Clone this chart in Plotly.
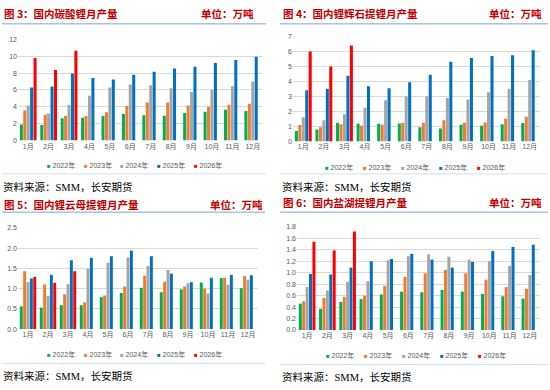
import plotly.graph_objects as go

# ---------------- data ----------------
months = ["1月", "2月", "3月", "4月", "5月", "6月", "7月", "8月", "9月", "10月", "11月", "12月"]
years = ["2022年", "2023年", "2024年", "2025年", "2026年"]
year_colors = ["#00B050", "#ED7D31", "#A5A5A5", "#0070C0", "#FF0000"]

# 图3 国内碳酸锂月产量
lc_2022 = [1.9, 1.85, 2.65, 2.7, 2.9, 3.15, 3.0, 2.95, 3.25, 3.4, 3.65, 3.5]
lc_2023 = [3.55, 3.05, 2.95, 2.9, 3.35, 4.1, 4.5, 4.5, 4.15, 4.0, 4.25, 4.35]
lc_2024 = [4.15, 3.2, 4.25, 5.3, 6.3, 6.65, 6.55, 6.2, 5.75, 6.0, 6.45, 7.0]
lc_2025 = [6.3, 6.4, 7.95, 7.4, 7.25, 7.8, 8.15, 8.55, 8.75, 9.2, 9.55, 9.95]
lc_2026 = [9.8, 8.35, 10.65, None, None, None, None, None, None, None, None, None]

# 图4 国内锂辉石提锂月产量
sp_2022 = [0.7, 0.8, 1.23, 1.18, 1.18, 1.2, 0.95, 0.87, 1.12, 1.05, 1.15, 1.23]
sp_2023 = [1.1, 0.95, 1.15, 1.05, 1.12, 1.25, 1.25, 1.42, 1.25, 1.27, 1.52, 1.65]
sp_2024 = [1.62, 1.42, 1.82, 2.25, 2.75, 3.0, 3.02, 2.9, 2.8, 3.28, 3.52, 4.1]
sp_2025 = [3.42, 3.52, 4.38, 3.68, 3.55, 3.95, 4.45, 5.32, 5.57, 5.7, 5.75, 6.07]
sp_2026 = [6.0, 5.0, 6.4, None, None, None, None, None, None, None, None, None]

# 图5 国内锂云母提锂月产量
lp_2022 = [0.56, 0.53, 0.59, 0.59, 0.79, 0.89, 1.02, 0.91, 0.98, 1.15, 1.26, 1.01]
lp_2023 = [1.43, 1.1, 0.86, 0.66, 0.83, 1.05, 1.32, 1.17, 1.05, 1.0, 1.27, 1.31]
lp_2024 = [1.16, 0.82, 1.11, 1.49, 1.64, 1.77, 1.56, 1.46, 1.13, 0.88, 1.1, 1.22]
lp_2025 = [1.25, 1.34, 1.7, 1.76, 1.8, 1.94, 1.8, 1.37, 1.16, 1.27, 1.34, 1.33]
lp_2026 = [1.29, 1.14, 1.43, None, None, None, None, None, None, None, None, None]

# 图6 国内盐湖提锂月产量
sl_2022 = [0.46, 0.37, 0.49, 0.54, 0.62, 0.67, 0.66, 0.70, 0.67, 0.63, 0.59, 0.55]
sl_2023 = [0.50, 0.56, 0.58, 0.60, 0.77, 0.93, 0.99, 1.05, 0.99, 0.88, 0.75, 0.72]
sl_2024 = [0.75, 0.69, 0.84, 0.85, 1.22, 1.29, 1.32, 1.28, 1.23, 1.20, 1.12, 0.96]
sl_2025 = [0.98, 0.97, 1.09, 1.20, 1.24, 1.33, 1.23, 1.09, 1.19, 1.38, 1.45, 1.49]
sl_2026 = [1.54, 1.39, 1.72, None, None, None, None, None, None, None, None, None]

titles = ["图 3：国内碳酸锂月产量", "图 4：国内锂辉石提锂月产量",
          "图 5：国内锂云母提锂月产量", "图 6：国内盐湖提锂月产量"]
unit_text = "单位：万吨"
source_text = "资料来源：SMM，长安期货"

# ---------------- layout helpers ----------------
W, H = 550, 390


def px(x):
    return x / W


def py(y):
    return 1 - y / H


panels = [
    dict(series=[lc_2022, lc_2023, lc_2024, lc_2025, lc_2026], ymax=12, dtick=2, fmt="d",
         xd=(18, 263), yd=(36, 139), title_x=2, title_y=10, unit_x=256, line_y=20, lx=(2, 266),
         leg_x=45, leg_y=164, leg_step=36.7, bot_y=173, src_y=186),
    dict(series=[sp_2022, sp_2023, sp_2024, sp_2025, sp_2026], ymax=7, dtick=1, fmt="d",
         xd=(293, 540), yd=(33, 140), title_x=281, title_y=10, unit_x=544, line_y=20, lx=(280, 548),
         leg_x=323, leg_y=166, leg_step=38, bot_y=173, src_y=186),
    dict(series=[lp_2022, lp_2023, lp_2024, lp_2025, lp_2026], ymax=2.5, dtick=0.5, fmt=".1f",
         xd=(18, 258), yd=(228, 331), title_x=2, title_y=204, unit_x=265, line_y=212, lx=(2, 265),
         leg_x=45, leg_y=357, leg_step=36.7, bot_y=366, src_y=379),
    dict(series=[sl_2022, sl_2023, sl_2024, sl_2025, sl_2026], ymax=1.8, dtick=0.2, fmt=".1f",
         xd=(297, 540), yd=(227, 332), title_x=281, title_y=202, unit_x=544, line_y=212, lx=(280, 548),
         leg_x=324, leg_y=358, leg_step=38, bot_y=367, src_y=380),
]

fig = go.Figure()
layout = dict(
    width=W, height=H, margin=dict(l=0, r=0, t=0, b=0),
    paper_bgcolor="white", plot_bgcolor="white",
    barmode="group", bargap=0.16, bargroupgap=0.12,
    showlegend=False,
    font=dict(family="Liberation Sans, Noto Sans CJK SC", size=7, color="#595959"),
)
annotations = []
shapes = []
TITLE_RED = "#C00000"
CJK = "Noto Sans CJK SC"

for i, p in enumerate(panels):
    n = "" if i == 0 else str(i + 1)
    xa, ya = "x" + n, "y" + n
    for yname, col, vals in zip(years, year_colors, p["series"]):
        fig.add_trace(go.Bar(x=months, y=vals, name=yname, marker=dict(color=col, line=dict(width=0)),
                             xaxis=xa, yaxis=ya, legendgroup=yname, showlegend=False))
    layout["xaxis" + n] = dict(
        domain=[px(p["xd"][0]), px(p["xd"][1])], anchor=ya, showgrid=False, zeroline=False,
        showline=False, ticks="", tickfont=dict(size=7, color="#595959"), fixedrange=True,
    )
    layout["yaxis" + n] = dict(
        domain=[py(p["yd"][1]), py(p["yd"][0])], anchor=xa, range=[0, p["ymax"]], dtick=p["dtick"],
        tick0=0, tickformat=p["fmt"], showgrid=True, gridcolor="#D9D9D9", gridwidth=1,
        zeroline=False, showline=False, ticks="", tickfont=dict(size=7, color="#595959"),
        fixedrange=True,
    )
    # title & unit
    annotations.append(dict(x=px(p["title_x"]), y=py(p["title_y"]), xref="paper", yref="paper",
                            xanchor="left", yanchor="middle", showarrow=False,
                            text="<b>" + titles[i] + "</b>",
                            font=dict(family=CJK, size=10.5, color=TITLE_RED)))
    annotations.append(dict(x=px(p["unit_x"]), y=py(p["title_y"]), xref="paper", yref="paper",
                            xanchor="right", yanchor="middle", showarrow=False,
                            text="<b>" + unit_text + "</b>",
                            font=dict(family=CJK, size=10.5, color=TITLE_RED)))
    # source
    annotations.append(dict(x=px(p["title_x"] - 1), y=py(p["src_y"]), xref="paper", yref="paper",
                            xanchor="left", yanchor="middle", showarrow=False, text=source_text,
                            font=dict(family="Liberation Serif, Noto Sans CJK SC", size=10.5, color="#000000")))
    # legend (text entries with coloured squares)
    for k, (yname, col) in enumerate(zip(years, year_colors)):
        annotations.append(dict(
            x=px(p["leg_x"] + k * p["leg_step"]), y=py(p["leg_y"]), xref="paper", yref="paper",
            xanchor="left", yanchor="middle", showarrow=False,
            text="<span style='color:%s;font-size:6px'>■</span> %s" % (col, yname),
            font=dict(family="Liberation Sans, Noto Sans CJK SC", size=7, color="#595959")))
    # decorative lines
    shapes.append(dict(type="line", xref="paper", yref="paper",
                       x0=px(p["lx"][0]), x1=px(p["lx"][1]), y0=py(p["line_y"]), y1=py(p["line_y"]),
                       line=dict(color="#A9C4E4", width=1.5)))
    shapes.append(dict(type="line", xref="paper", yref="paper",
                       x0=px(p["lx"][0]), x1=px(p["lx"][1]), y0=py(p["bot_y"]), y1=py(p["bot_y"]),
                       line=dict(color="#CFE0F1", width=1)))

layout["annotations"] = annotations
layout["shapes"] = shapes
fig.update_layout(**layout)
fig.write_html("out.html", config={"displayModeBar": False},
               post_script="document.body.style.margin='0';document.body.style.overflow='hidden';")
